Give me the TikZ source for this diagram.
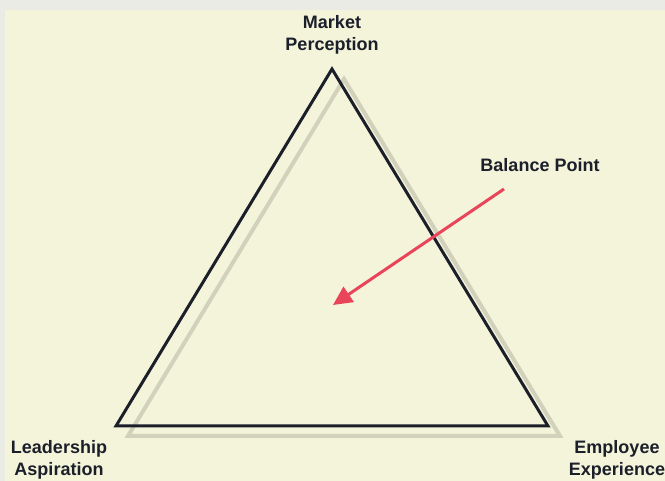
\documentclass[tikz,border=0pt]{standalone}
\usepackage{fontspec}
\setmainfont{Liberation Sans}
\usetikzlibrary{arrows.meta,calc}
\definecolor{pagegray}{HTML}{EBEBE6}
\definecolor{cream}{HTML}{F4F4DA}
\definecolor{shadowgray}{HTML}{D2D2BC}
\definecolor{inkblue}{HTML}{1B1F2A}
\definecolor{pointred}{HTML}{E8445A}
\begin{document}
\begin{tikzpicture}[x=1pt,y=-1pt,
    corner/.style={font=\bfseries\fontsize{18}{22}\selectfont,text=inkblue,align=center,inner sep=0pt},
    side/.style={line width=3pt,line join=miter,draw=inkblue}]
\useasboundingbox (0,0) rectangle (665,481);
\fill[pagegray] (0,0) rectangle (665,481);
\fill[cream] (5,10) rectangle (665,481);

\coordinate (market) at (332,69);
\coordinate (leader) at (116,426);
\coordinate (employee) at (548,426);

% shadow behind the triangle
\draw[shadowgray,line width=4pt,line join=miter]
    ($(market)+(12,10)$) -- ($(leader)+(12,10)$) -- ($(employee)+(12,10)$) -- cycle;
\draw[side] (market) -- (leader) -- (employee) -- cycle;

\node[corner] (marketlabel) at (332,35) {Market\\Perception};
\node[corner] (leaderlabel) at (59,460) {Leadership\\Aspiration};
\node[corner] (employeelabel) at (617,460) {Employee\\Experience};
\node[corner] (balancelabel) at (540,165) {Balance Point};

\coordinate (tail) at (504,189);
\coordinate (balance) at (333,305);
\draw[pointred,line width=3pt,-{Triangle[length=19pt,width=18pt]}] (tail) -- (balance);
\end{tikzpicture}
\end{document}
